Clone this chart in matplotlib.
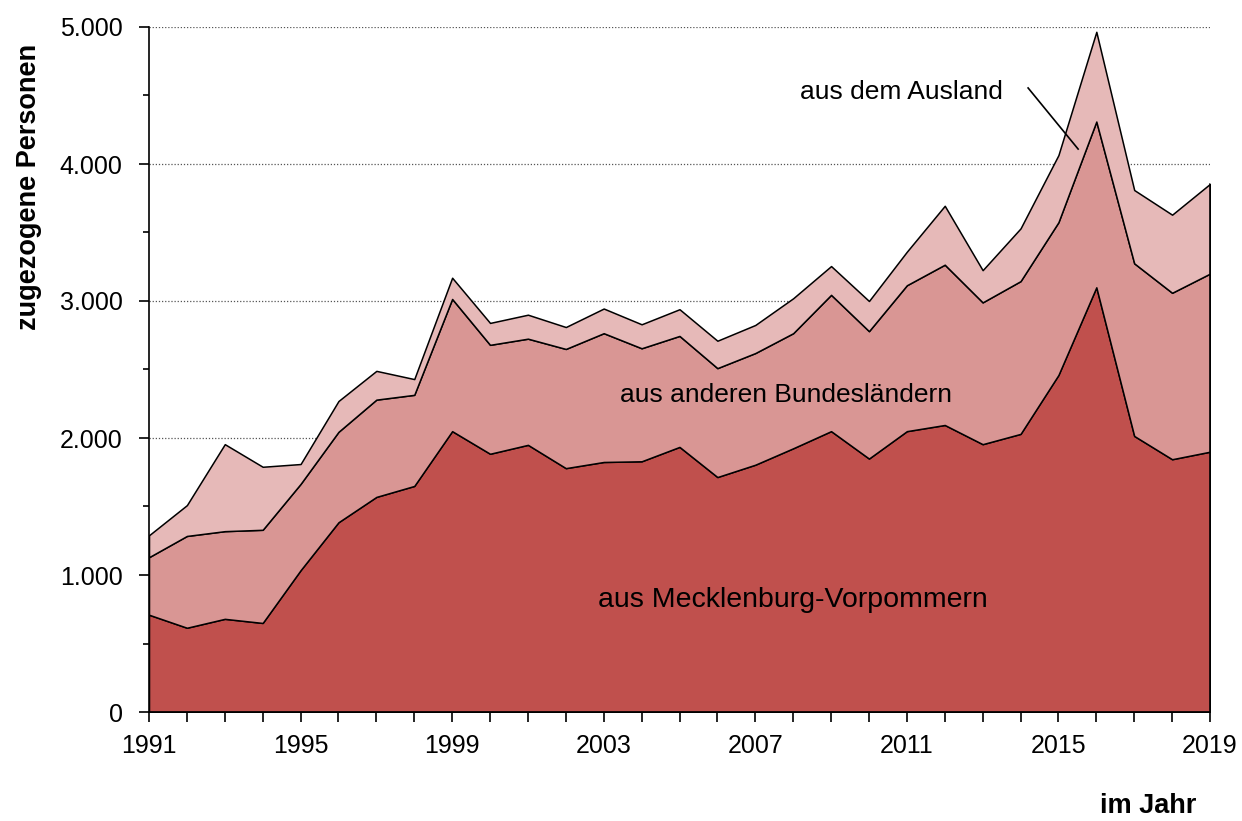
import numpy as np
import matplotlib
matplotlib.use('Agg')
import matplotlib.pyplot as plt
from matplotlib.ticker import MultipleLocator, FixedLocator, FuncFormatter

plt.rcParams['font.family'] = ['Liberation Sans', 'DejaVu Sans']

# Zugezogene Personen nach Herkunft
years = list(range(1991, 2020))
mv = [710, 615, 680, 650, 1035, 1385, 1570, 1650, 2050, 1885, 1950, 1780, 1825, 1830,
      1935, 1715, 1805, 1925, 2050, 1850, 2050, 2095, 1955, 2030, 2460, 3100, 2015, 1845, 1900]
total_mv_bl = [1130, 1285, 1320, 1330, 1665, 2045, 2280, 2315, 3015, 2680, 2725, 2650, 2765, 2655,
               2745, 2510, 2620, 2765, 3045, 2780, 3115, 3265, 2990, 3145, 3575, 4310, 3275, 3060, 3200]
total = [1290, 1510, 1955, 1790, 1810, 2270, 2490, 2430, 3170, 2840, 2900, 2810, 2945, 2830,
         2940, 2710, 2825, 3020, 3255, 3000, 3360, 3695, 3225, 3530, 4065, 4965, 3810, 3630, 3855]
year_labels = [1991, 1995, 1999, 2003, 2007, 2011, 2015, 2019]

bl = np.array(total_mv_bl) - np.array(mv)
ausland = np.array(total) - np.array(total_mv_bl)

colors = ['#C0504D', '#D99694', '#E6B9B8']

fig = plt.figure(figsize=(12.42, 8.21), dpi=100)
ax = fig.add_axes([149/1242, 1 - 712/821, (1210-149)/1242, (712-27)/821])

ax.stackplot(years, mv, bl, ausland, colors=colors, edgecolor='black', linewidth=1.1, zorder=2)
ax.plot([years[-1], years[-1]], [0, total[-1]], color='black', lw=1.1, zorder=3)

ax.set_xlim(1991, 2019)
ax.set_ylim(0, 5000)
for v in [2000, 3000, 4000, 5000]:
    ax.axhline(v, color='#555555', lw=0.9, ls=(0, (1, 1.5)), zorder=1)

ax.xaxis.set_major_locator(FixedLocator(year_labels))
ax.xaxis.set_minor_locator(MultipleLocator(1))
ax.yaxis.set_major_locator(MultipleLocator(1000))
ax.yaxis.set_minor_locator(MultipleLocator(500))
ax.yaxis.set_major_formatter(FuncFormatter(lambda v, p: f'{int(v):,}'.replace(',', '.')))

for s in ['top', 'right']:
    ax.spines[s].set_visible(False)
ax.spines['left'].set_linewidth(1.2)
ax.spines['bottom'].set_linewidth(1.2)
ax.tick_params(axis='both', which='both', direction='out', length=7, width=1.2, labelsize=18)
ax.tick_params(axis='y', which='minor', length=4)
ax.tick_params(axis='x', which='major', pad=9)
ax.tick_params(axis='y', which='major', pad=12)

ax.set_ylabel('zugezogene Personen', fontsize=19.5, fontweight='bold')
ax.yaxis.set_label_coords(-0.101, 0.766)
fig.text(1148/1242, 1 - 806/821, 'im Jahr', fontsize=19.5, fontweight='bold', ha='center', va='center')

ax.text(2008.0, 817, 'aus Mecklenburg-Vorpommern', fontsize=20.5, ha='center', va='center', zorder=4)
ax.text(2007.8, 2314, 'aus anderen Bundesländern', fontsize=19, ha='center', va='center', zorder=4)
ax.text(2010.86, 4526, 'aus dem Ausland', fontsize=19, ha='center', va='center', zorder=4)
ax.plot([2014.2, 2015.52], [4555, 4109], color='black', lw=1.2, zorder=4)

fig.savefig('out.png', dpi=100)
